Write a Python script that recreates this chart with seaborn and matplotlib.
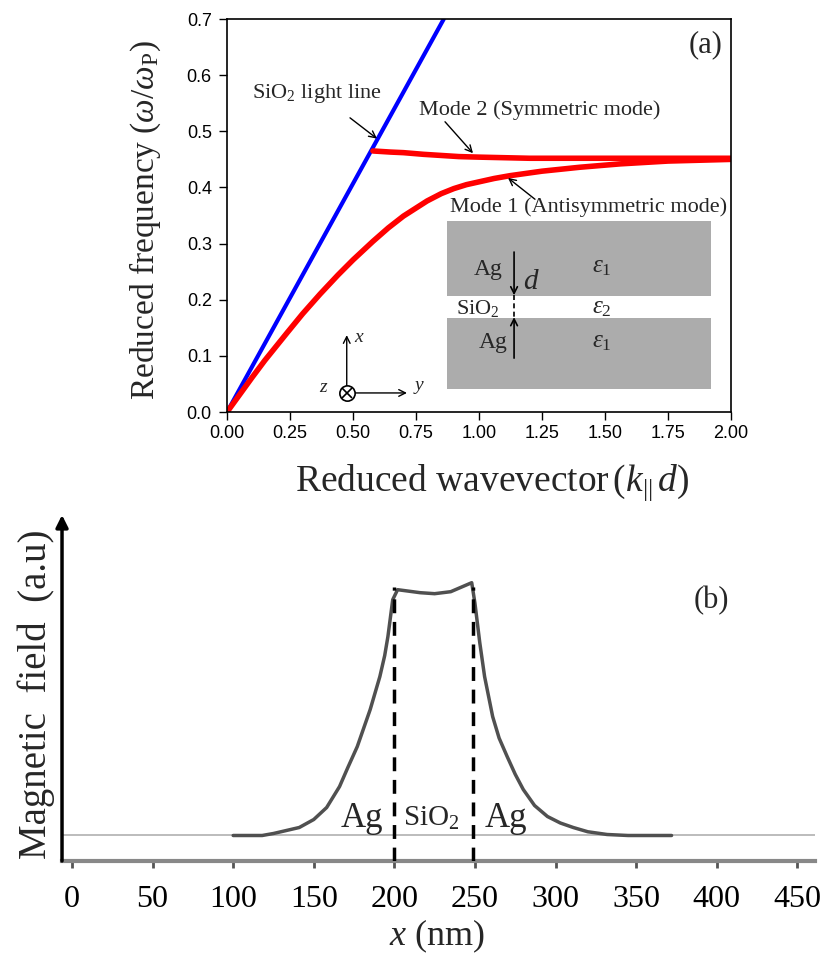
import matplotlib
matplotlib.use("Agg")
import matplotlib.pyplot as plt
from matplotlib.patches import Rectangle
import seaborn as sns
import numpy as np
import pandas as pd

sns.set_theme(style="white")
plt.rcParams["font.family"] = ["Liberation Serif", "DejaVu Serif"]
plt.rcParams["mathtext.fontset"] = "custom"
plt.rcParams["mathtext.rm"] = "Liberation Serif"
plt.rcParams["mathtext.it"] = "Liberation Serif:italic"

# ---- panel (a): dispersion curves ----
light_k = [0.0, 0.86]
light_w = [0.0, 0.70]

mode1_k = [0.0, 0.05, 0.1, 0.15, 0.238, 0.3, 0.369, 0.44, 0.5, 0.579, 0.64,
           0.7, 0.794, 0.85, 0.9, 0.95, 1.0, 1.06, 1.123, 1.25, 1.4, 1.56,
           1.75, 2.0]
mode1_w = [0.0, 0.031, 0.062, 0.092, 0.141, 0.175, 0.21, 0.244, 0.271, 0.304,
           0.328, 0.349, 0.376, 0.389, 0.398, 0.405, 0.41, 0.416, 0.421, 0.429,
           0.436, 0.442, 0.447, 0.450]

mode2_k = [0.579, 0.65, 0.7, 0.78, 0.85, 0.92, 1.0, 1.1, 1.2, 1.35, 1.5, 2.0]
mode2_w = [0.465, 0.463, 0.462, 0.459, 0.457, 0.455, 0.454, 0.453, 0.452,
           0.452, 0.452, 0.452]

a_xticks = [0.0, 0.25, 0.5, 0.75, 1.0, 1.25, 1.5, 1.75, 2.0]
a_yticks = [0.0, 0.1, 0.2, 0.3, 0.4, 0.5, 0.6, 0.7]

# ---- panel (b): magnetic field profile ----
field_x = [100, 118, 125, 141, 150, 158, 166, 171, 177, 181, 185, 188, 191,
           194, 196, 199, 202, 216, 225, 235, 248, 250, 253, 256, 261, 265,
           270, 275, 280, 287, 295, 303, 311, 320, 332, 345, 372]
field_y = [0.0, 0.0, 0.008, 0.032, 0.064, 0.112, 0.196, 0.27, 0.356, 0.43,
           0.504, 0.57, 0.636, 0.72, 0.796, 0.944, 0.984, 0.972, 0.968, 0.976,
           1.012, 0.93, 0.772, 0.636, 0.476, 0.39, 0.316, 0.245, 0.184, 0.12,
           0.076, 0.05, 0.032, 0.015, 0.004, 0.0, 0.0]
interfaces = [200, 249]
b_xticks = [0, 50, 100, 150, 200, 250, 300, 350, 400, 450]

fig = plt.figure(figsize=(8.28, 9.56), dpi=100)

# ===================== (a) =====================
ax = fig.add_axes([0.2742, 0.5690, 0.6087, 0.4111])
sns.lineplot(x=light_k, y=light_w, ax=ax, color="#0000ff", lw=3, sort=False)
sns.lineplot(x=mode1_k, y=mode1_w, ax=ax, color="#ff0000", lw=4)
sns.lineplot(x=mode2_k, y=mode2_w, ax=ax, color="#ff0000", lw=4)

ax.set_xlim(0, 2.0)
ax.set_ylim(0, 0.7)
ax.set_xticks(a_xticks)
ax.set_yticks(a_yticks)
ax.set_xticklabels([f"{t:.2f}" for t in a_xticks], family="Liberation Sans", fontsize=13)
ax.set_yticklabels([f"{t:.1f}" for t in a_yticks], family="Liberation Sans", fontsize=13)
ax.tick_params(axis="both", direction="out", length=6, width=1, colors="black",
               bottom=True, left=True)
ax.tick_params(axis="x", pad=3)
ax.tick_params(axis="y", pad=5)
for s in ax.spines.values():
    s.set_color("black")
    s.set_linewidth(1.2)

ax.set_xlabel(r"Reduced wavevector$\,(k_{||}\,d)$", fontsize=27)
ax.set_ylabel(r"Reduced frequency ($\omega/\omega_{\rm P}$)", fontsize=24)
ax.xaxis.set_label_coords(0.526, -0.128)
ax.yaxis.set_label_coords(-0.127, 0.489)

ax.text(1.897, 0.654, "(a)", fontsize=22, ha="center", va="center")

arrow = dict(arrowstyle="->", color="black", lw=1, shrinkA=0, shrinkB=0)
ax.annotate("", xy=(0.595, 0.487), xytext=(0.488, 0.524), arrowprops=arrow)
ax.text(0.10, 0.568, "SiO$_2$ light line", fontsize=16, ha="left", va="center")
ax.annotate("", xy=(0.976, 0.461), xytext=(0.865, 0.517), arrowprops=arrow)
ax.text(0.762, 0.538, "Mode 2 (Symmetric mode)", fontsize=16, ha="left", va="center")
ax.annotate("", xy=(1.115, 0.417), xytext=(1.222, 0.379), arrowprops=arrow)
ax.text(0.885, 0.365, "Mode 1 (Antisymmetric mode)", fontsize=16, ha="left", va="center")

# inset: Ag / SiO2 / Ag
gray = "#acacac"
ax.add_patch(Rectangle((0.873, 0.2066), 1.921 - 0.873, 0.340 - 0.2066,
                       facecolor=gray, edgecolor="none", zorder=1))
ax.add_patch(Rectangle((0.873, 0.041), 1.921 - 0.873, 0.1674 - 0.041,
                       facecolor=gray, edgecolor="none", zorder=1))
ax.text(1.036, 0.253, "Ag", fontsize=17, ha="center", va="center")
ax.text(0.996, 0.185, "SiO$_2$", fontsize=16, ha="center", va="center")
ax.text(1.056, 0.123, "Ag", fontsize=17, ha="center", va="center")
for yy, lab in [(0.258, r"$\varepsilon_1$"), (0.185, r"$\varepsilon_2$"),
                (0.125, r"$\varepsilon_1$")]:
    ax.text(1.486, yy, lab, fontsize=18, ha="center", va="center")
ax.annotate("", xy=(1.139, 0.208), xytext=(1.139, 0.285),
            arrowprops=dict(arrowstyle="->", color="black", lw=1.2, shrinkA=0, shrinkB=0))
ax.plot([1.139, 1.139], [0.208, 0.170], color="black", lw=1.2, ls=(0, (3, 2)))
ax.annotate("", xy=(1.139, 0.169), xytext=(1.139, 0.096),
            arrowprops=dict(arrowstyle="->", color="black", lw=1.2, shrinkA=0, shrinkB=0))
ax.text(1.206, 0.2316, "$d$", fontsize=21, ha="center", va="center")

# coordinate glyph
ax.annotate("", xy=(0.475, 0.137), xytext=(0.475, 0.034),
            arrowprops=dict(arrowstyle="->", color="black", lw=1, shrinkA=0, shrinkB=0))
ax.annotate("", xy=(0.714, 0.034), xytext=(0.475, 0.034),
            arrowprops=dict(arrowstyle="->", color="black", lw=1, shrinkA=0, shrinkB=0))
ax.plot([0.475], [0.034], marker="o", ms=11, mfc="white", mec="black", mew=1.2, zorder=5)
ax.plot([0.475], [0.034], marker="x", ms=7, mec="black", mew=1.2, zorder=6)
ax.text(0.524, 0.132, "$x$", fontsize=14, ha="center", va="center")
ax.text(0.762, 0.0445, "$y$", fontsize=14, ha="center", va="center")
ax.text(0.385, 0.0445, "$z$", fontsize=14, ha="center", va="center")

# ===================== (b) =====================
bx = fig.add_axes([0.0749, 0.0994, 0.9094, 0.3619])
bx.axhline(0, color="#b0b0b0", lw=1.2, zorder=1)
sns.lineplot(x=field_x, y=field_y, ax=bx, color="#505050", lw=2.5, sort=False, zorder=2)
for xi in interfaces:
    bx.plot([xi, xi], [-0.102, 0.995], color="black", lw=2.5, ls=(0, (4, 2.5)), zorder=3)

bx.set_xlim(-6.2, 461)
bx.set_ylim(-0.102, 1.283)
bx.set_xticks(b_xticks)
bx.set_xticklabels([str(t) for t in b_xticks], fontsize=23)
bx.set_yticks([])
bx.tick_params(axis="x", direction="out", length=5, width=2, colors="#555555",
               labelcolor="black", pad=12, bottom=True)
for side in ["top", "right", "left"]:
    bx.spines[side].set_visible(False)
bx.spines["bottom"].set_color("#888888")
bx.spines["bottom"].set_linewidth(3)
bx.annotate("", xy=(0, 1.0), xytext=(0, 0), xycoords="axes fraction",
            arrowprops=dict(arrowstyle="-|>", color="black", lw=2.5,
                            mutation_scale=18, shrinkA=0, shrinkB=0))

bx.set_xlabel("$x$ (nm)", fontsize=26)
bx.set_ylabel("Magnetic  field  (a.u)", fontsize=28)
bx.xaxis.set_label_coords(0.498, -0.165)
bx.yaxis.set_label_coords(-0.009, 0.483)

bx.text(397, 0.94, "(b)", fontsize=22, ha="center", va="center")
bx.text(180, 0.07, "Ag", fontsize=25, ha="center", va="center")
bx.text(223, 0.07, "SiO$_2$", fontsize=21, ha="center", va="center")
bx.text(269, 0.07, "Ag", fontsize=25, ha="center", va="center")

fig.savefig("out.png", dpi=100)
